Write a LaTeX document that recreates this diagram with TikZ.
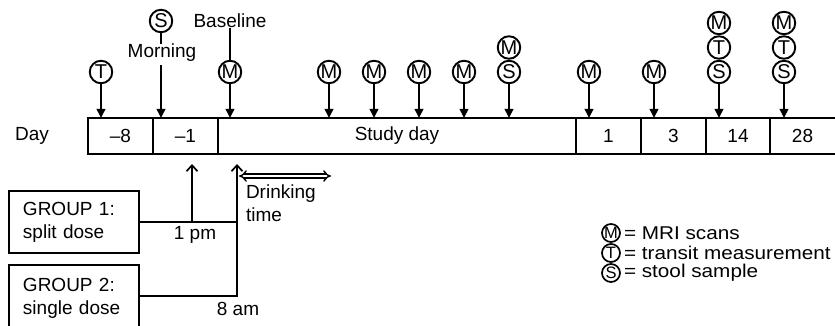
\documentclass[tikz,border=0pt]{standalone}
\usepackage{fontspec}
\setmainfont{Liberation Sans}
\newfontfamily\legfont{Liberation Sans}[FakeStretch=1.12]
\usetikzlibrary{arrows.meta}
\begin{document}
\begin{tikzpicture}[x=1pt,y=-1pt,
  every node/.style={inner sep=0pt, outer sep=0pt},
  txt/.style={font=\fontsize{19}{23}\selectfont},
  cell/.style={draw, line width=2pt, minimum height=36pt, anchor=north west, txt},
  circ/.style={circle, draw, line width=1.9pt, minimum size=22.5pt, font=\fontsize{20}{20}\selectfont},
  lcirc/.style={circle, draw, line width=1.7pt, minimum size=18pt, font=\fontsize{16.5}{16.5}\selectfont},
  dn/.style={line width=1.9pt, -{Triangle[length=9pt,width=8.5pt]}},
  upar/.style={line width=1.9pt, -{Straight Barb[length=6pt,width=11pt,line width=1.7pt]}},
  ln/.style={line width=1.9pt},
  grp/.style={draw, line width=2pt, anchor=north west, minimum width=130pt, text width=102pt, inner xsep=14pt, align=left, txt},
  leg/.style={anchor=west, font=\legfont\fontsize{18.5}{18.5}\selectfont}
]
\useasboundingbox (0,0) rectangle (835,326);

% timeline
\node[txt] (day) at (32,136) {Day};
\node[cell, minimum width=65pt] (c1) at (88,118) {--8};
\node[cell, minimum width=65pt] (c2) at (153,118) {--1};
\node[cell, minimum width=358pt] (c3) at (218,118) {Study day};
\node[cell, minimum width=65pt] (c4) at (576,118) {1};
\node[cell, minimum width=65pt] (c5) at (641,118) {3};
\node[cell, minimum width=64pt] (c6) at (706,118) {14};
\node[cell, draw=none, minimum width=65pt] (c7) at (770,118) {28};
\draw[ln, line width=2pt] (c6.north east) -- ++(80,0);
\draw[ln, line width=2pt] (c6.south east) -- ++(80,0);

% top markers
\node[circ] (T1) at (101,72) {T};
\draw[dn] (T1) -- (T1 |- c1.north);

\node[circ] (Sm) at (161,21) {S};
\node[txt] (morn) at (162,53) {Morning};
\draw[ln] (Sm) -- (Sm |- morn.north);
\coordinate (mornb) at (161,65);
\draw[dn] (mornb) -- (mornb |- c2.north);

\node[txt] (base) at (230,21) {Baseline};
\node[circ] (Mb) at (230,72) {M};
\draw[ln] (base.south -| Mb) -- (Mb);
\draw[dn] (Mb) -- (Mb |- c3.north);

\node[circ] (M1) at (329,72) {M};
\node[circ] (M2) at (374,72) {M};
\node[circ] (M3) at (419,72) {M};
\node[circ] (M4) at (464,72) {M};
\node[circ] (S5) at (509,72) {S};
\node[circ] (M5) at (509,47.5) {M};
\foreach \n in {M1,M2,M3,M4,S5} \draw[dn] (\n) -- (\n |- c3.north);

\node[circ] (M6) at (589,72) {M};
\draw[dn] (M6) -- (M6 |- c4.north);
\node[circ] (M7) at (654,72) {M};
\draw[dn] (M7) -- (M7 |- c5.north);

\node[circ] (S8) at (719,72) {S};
\node[circ] (T8) at (719,47.5) {T};
\node[circ] (M8) at (719,23) {M};
\draw[dn] (S8) -- (S8 |- c6.north);

\node[circ] (S9) at (784,72) {S};
\node[circ] (T9) at (784,47.5) {T};
\node[circ] (M9) at (784,23) {M};
\draw[dn] (S9) -- (S9 |- c7.north);

% groups
\node[grp, minimum height=62pt] (g1) at (9,191) {GROUP 1:\\split dose};
\node[grp, minimum height=66pt] (g2) at (9,265) {GROUP 2:\\single dose};

\coordinate (tip1) at (192,164);
\coordinate (tip2) at (237,164);
\coordinate (j1) at (237,222);
\coordinate (k1) at (192,222);
\draw[ln] (g1.east) -- (j1);
\draw[upar] (k1) -- (tip1);
\draw[upar] (g2.east |- 0,296) -| (tip2);
\node[txt] (pm) at (195,235) {1 pm};
\node[txt] (am) at (238,309) {8 am};

% drinking time
\coordinate (dl) at (239,176);
\coordinate (dr) at (331,176);
\draw[double, double distance=2.4pt, line width=1.4pt, {Implies}-{Implies}] (dl) -- (dr);
\node[txt, align=left, anchor=west] (drink) at (246,203.5) {Drinking\\time};

% legend
\node[lcirc] (lm) at (611,233) {M};
\node[lcirc] (lt) at (611,253) {T};
\node[lcirc] (ls) at (611,273) {S};
\node[leg] at (624,233) {= MRI scans};
\node[leg] at (624,253) {= transit measurement};
\node[leg] at (624,273) {= stool sample};
\end{tikzpicture}
\end{document}
